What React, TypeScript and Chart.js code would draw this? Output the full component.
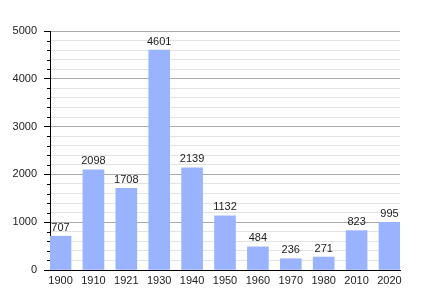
import React, { useEffect, useRef } from "react";
import { Chart, registerables } from "chart.js";

Chart.register(...registerables);

const years = ["1900", "1910", "1921", "1930", "1940", "1950", "1960", "1970", "1980", "2010", "2020"];
const population = [707, 2098, 1708, 4601, 2139, 1132, 484, 236, 271, 823, 995];
const yMax = 5000;
const majorStep = 1000;
const minorStep = 200;

const FONT = "'Liberation Sans', Arial, sans-serif";

const valueLabels = {
  id: "valueLabels",
  afterDatasetsDraw(chart: any) {
    const ctx = chart.ctx;
    const meta = chart.getDatasetMeta(0);
    ctx.save();
    ctx.font = `11px ${FONT}`;
    ctx.fillStyle = "#222";
    ctx.textAlign = "center";
    ctx.textBaseline = "bottom";
    meta.data.forEach((bar: any, i: number) => {
      ctx.fillText(String(population[i]), bar.x, bar.y - 3);
    });
    ctx.restore();
  },
};

const minorTicks = {
  id: "minorTicks",
  afterDraw(chart: any) {
    const ctx = chart.ctx;
    const y = chart.scales.y;
    ctx.save();
    ctx.strokeStyle = "#000";
    ctx.lineWidth = 1;
    for (let v = 0; v <= yMax; v += minorStep) {
      if (v % majorStep === 0) continue;
      const py = Math.round(y.getPixelForValue(v)) + 0.5;
      ctx.beginPath();
      ctx.moveTo(chart.chartArea.left - 3, py);
      ctx.lineTo(chart.chartArea.left, py);
      ctx.stroke();
    }
    ctx.restore();
  },
};

export default function App() {
  const ref = useRef<HTMLCanvasElement>(null);
  useEffect(() => {
    if (!ref.current) return;
    const chart = new Chart(ref.current, {
      type: "bar",
      data: {
        datasets: [
          {
            data: population.map((v, i) => ({ x: i, y: v })),
            backgroundColor: "#99b3ff",
            borderWidth: 0,
            barThickness: 21,
          },
        ],
      },
      options: {
        animation: false,
        responsive: false,
        maintainAspectRatio: false,
        layout: { padding: { left: 0, top: 31, right: 30, bottom: 0 } },
        plugins: { legend: { display: false }, tooltip: { enabled: false } },
        scales: {
          x: {
            type: "linear",
            offset: false,
            min: -0.32,
            max: 10.32,
            afterBuildTicks(scale: any) {
              scale.ticks = years.map((_, i) => ({ value: i }));
            },
            afterFit(scale: any) {
              scale.height = 30;
            },
            grid: { display: false, drawTicks: false, offset: false },
            border: { display: true, color: "#000", width: 1 },
            ticks: {
              padding: 4,
              autoSkip: false,
              maxRotation: 0,
              color: "#222",
              font: { family: FONT, size: 11 },
              callback: (v: any) => years[v] ?? "",
            },
          },
          y: {
            min: 0,
            max: yMax,
            afterFit(scale: any) {
              scale.width = 50;
            },
            grid: {
              color: (c: any) => (c.tick && c.tick.value % majorStep === 0 ? "#aaaaaa" : "#e3e3e3"),
              tickColor: (c: any) => (c.tick && c.tick.value % majorStep === 0 ? "#000" : "rgba(0,0,0,0)"),
              tickLength: 6,
            },
            border: { display: true, color: "#000", width: 1 },
            ticks: {
              stepSize: minorStep,
              padding: 7,
              autoSkip: false,
              color: "#222",
              font: { family: FONT, size: 11 },
              callback: (v: any) => (v % majorStep === 0 ? String(v) : ""),
            },
          },
        },
      } as any,
      plugins: [valueLabels, minorTicks],
    });
    return () => chart.destroy();
  }, []);
  return (
    <div style={{ position: "fixed", left: 0, top: 0, width: 430, height: 300, background: "#fff" }}>
      <canvas ref={ref} width={430} height={300} style={{ width: 430, height: 300 }} />
    </div>
  );
}
